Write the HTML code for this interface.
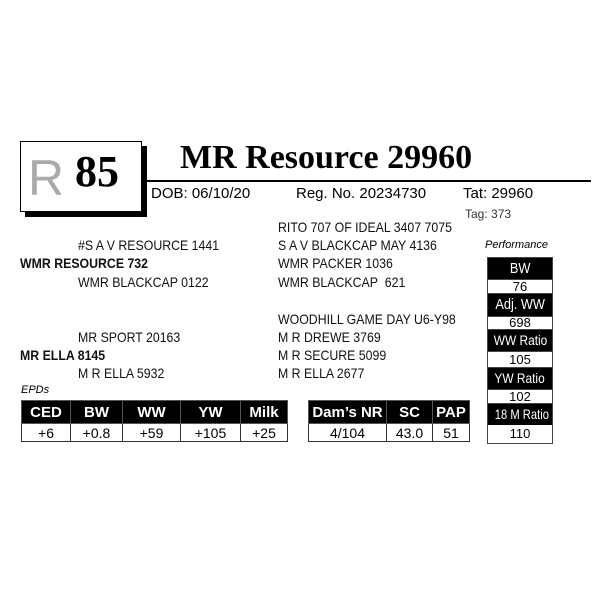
<!DOCTYPE html>
<html><head><style>
body{margin:0;width:600px;height:600px;background:#fff;position:relative;font-family:"Liberation Sans",sans-serif;overflow:hidden}
.a{position:absolute;white-space:nowrap}
.p{font-size:14px;transform:scaleX(0.88);transform-origin:0 0;color:#111}
table{position:absolute;border-collapse:collapse;table-layout:fixed}
td{border:1px solid #333;text-align:center;padding:0;font-size:14px}
th{background:#000;color:#fff;font-weight:bold;font-size:15px;border:1px solid #555;padding:0;white-space:nowrap}
.perf{position:absolute;left:487px;width:66px;border:1px solid #444;box-sizing:border-box}
.perf div{text-align:center;box-sizing:border-box;white-space:nowrap;overflow:hidden}
.perf span{display:inline-block;transform:scaleX(0.85)}
.h{background:#000;color:#fff;font-size:15px}
.v{background:#fff;font-size:13px;border-top:1px solid #444;border-bottom:1px solid #444}
</style></head><body>
<div class="a" style="left:25px;top:146px;width:122px;height:71px;background:#000"></div>
<div class="a" style="left:20px;top:141px;width:120px;height:69px;background:#fff;border:1px solid #000"></div>
<div class="a" style="left:28px;top:150px;font-size:50px;color:#aaa;font-family:'Liberation Sans';line-height:56px">R</div>
<div class="a" style="left:75px;top:145px;font-size:44px;font-weight:bold;font-family:'Liberation Serif',serif;line-height:54px">85</div>
<div class="a" style="left:180px;top:138px;font-size:34px;font-weight:bold;font-family:'Liberation Serif',serif;line-height:39px">MR Resource 29960</div>
<div class="a" style="left:141px;top:180px;width:450px;height:2px;background:#000"></div>
<div class="a" style="left:151px;top:185px;font-size:15px">DOB: 06/10/20</div>
<div class="a" style="left:296px;top:185px;font-size:15px">Reg. No. 20234730</div>
<div class="a" style="left:463px;top:185px;font-size:15px">Tat: 29960</div>
<div class="a" style="left:465px;top:207px;font-size:12px;color:#333">Tag: 373</div>

<div class="a p" style="left:278px;top:219px">RITO 707 OF IDEAL 3407 7075</div>
<div class="a p" style="left:78px;top:237px">#S A V RESOURCE 1441</div>
<div class="a p" style="left:278px;top:237px">S A V BLACKCAP MAY 4136</div>
<div class="a p" style="left:20px;top:255px;font-weight:bold">WMR RESOURCE 732</div>
<div class="a p" style="left:278px;top:255px">WMR PACKER 1036</div>
<div class="a p" style="left:78px;top:274px">WMR BLACKCAP 0122</div>
<div class="a p" style="left:278px;top:274px">WMR BLACKCAP&nbsp; 621</div>
<div class="a p" style="left:278px;top:311px">WOODHILL GAME DAY U6-Y98</div>
<div class="a p" style="left:78px;top:329px">MR SPORT 20163</div>
<div class="a p" style="left:278px;top:329px">M R DREWE 3769</div>
<div class="a p" style="left:20px;top:347px;font-weight:bold">MR ELLA 8145</div>
<div class="a p" style="left:278px;top:347px">M R SECURE 5099</div>
<div class="a p" style="left:78px;top:365px">M R ELLA 5932</div>
<div class="a p" style="left:278px;top:365px">M R ELLA 2677</div>

<div class="a" style="left:21px;top:384px;font-size:11px;font-style:italic">EPDs</div>
<table style="left:21px;top:400px;width:267px">
<tr style="height:23px"><th style="width:48px">CED</th><th style="width:51px">BW</th><th style="width:57px">WW</th><th style="width:59px">YW</th><th>Milk</th></tr>
<tr style="height:18px"><td>+6</td><td>+0.8</td><td>+59</td><td>+105</td><td>+25</td></tr></table>
<table style="left:308px;top:400px;width:162px">
<tr style="height:23px"><th style="width:77px">Dam’s NR</th><th style="width:45px">SC</th><th>PAP</th></tr>
<tr style="height:18px"><td>4/104</td><td>43.0</td><td>51</td></tr></table>

<div class="a" style="left:485px;top:239px;font-size:11px;font-style:italic">Performance</div>
<div class="perf" style="top:257px">
<div class="h" style="height:21px;line-height:21px"><span>BW</span></div>
<div class="v" style="height:15px;line-height:13px">76</div>
<div class="h" style="height:22px;line-height:22px"><span>Adj. WW</span></div>
<div class="v" style="height:14px;line-height:12px">698</div>
<div class="h" style="height:21px;line-height:21px;font-size:14px"><span>WW Ratio</span></div>
<div class="v" style="height:17px;line-height:15px">105</div>
<div class="h" style="height:21px;line-height:21px;font-size:14px"><span>YW Ratio</span></div>
<div class="v" style="height:15px;line-height:13px">102</div>
<div class="h" style="height:21px;line-height:21px;font-size:14px"><span style="transform:scaleX(0.8)">18 M Ratio</span></div>
<div style="height:18px;line-height:18px;font-size:13px">110</div>
</div>
</body></html>
